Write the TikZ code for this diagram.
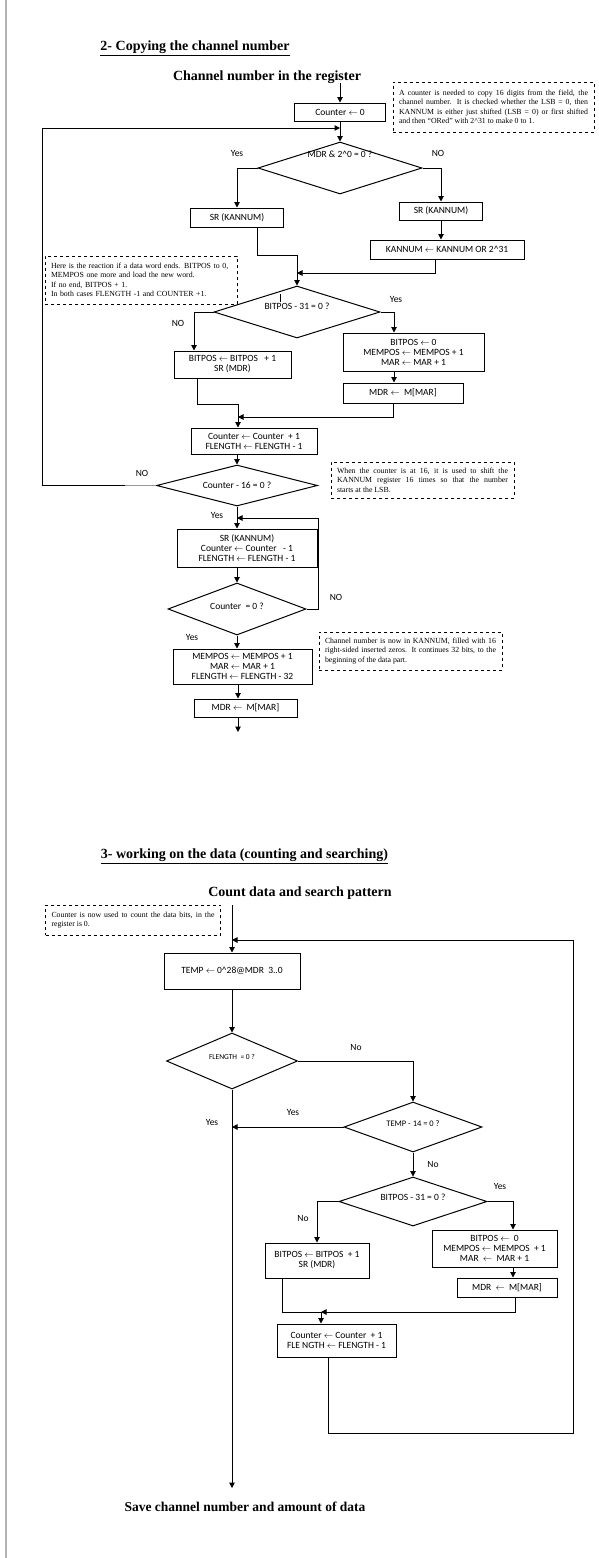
\documentclass[tikz,border=0pt]{standalone}
\usepackage{fontspec}
\setmainfont{Liberation Serif}
\newfontfamily\calib{Carlito}
\usetikzlibrary{shapes.geometric,arrows.meta}
\tikzset{
 ln/.style={line width=1pt},
 arr/.style={ln,-{Triangle[length=5.5pt,width=5.5pt]}},
 box/.style={draw,ln,inner sep=1pt,font=\calib\fontsize{9.5}{10}\selectfont,align=center},
 dec/.style={diamond,draw,ln,aspect=3,inner sep=0pt,font=\calib\fontsize{9.5}{10}\selectfont},
 note/.style={draw,dashed,ln,inner xsep=6pt,inner ysep=3pt,font=\fontsize{7.8}{9.5}\selectfont,align=justify},
 lbl/.style={font=\calib\fontsize{9.5}{10}\selectfont,inner sep=0pt},
 ttl/.style={font=\bfseries\fontsize{14}{16}\selectfont,inner sep=0pt},
}
\newcommand{\la}{$\leftarrow$}
\newcommand{\rs}[2]{\raisebox{#1pt}[0pt][0pt]{#2}}
\begin{document}
\begin{tikzpicture}[x=1pt,y=-1pt]
\fill[white] (0,0) rectangle (599,1558);
\useasboundingbox (0,0) rectangle (599,1558);
\draw[black!30,line width=1.2pt] (6,0) -- (6,1558);

% ---------- Section 2 ----------
\node[ttl] (t1) at (195,48) {\underline{2- Copying the channel number}};
\node[ttl] (t2) at (267,77) {Channel number in the register};

\node[box,minimum width=91pt,minimum height=18pt] (c0) at (340,112) {Counter \la\ 0};
\node[note,text width=189pt,minimum height=50pt] (n1) at (493.5,107) {A counter is needed to copy 16 digits from the field, the\linebreak channel number. It is checked whether the LSB = 0, then\linebreak KANNUM is either just shifted (LSB = 0) or first shifted\linebreak and then ``ORed'' with 2\textasciicircum 31 to make 0 to 1.};

\node[dec,minimum width=164pt,minimum height=52pt] (d1) at (340,168) {\rs{11}{MDR \& 2\textasciicircum 0 = 0 ?}};
\node[lbl] (y1) at (237,153) {Yes};
\node[lbl] (no1) at (438,153) {NO};

\node[box,minimum width=93pt,minimum height=19pt] (s1) at (237,217.5) {SR (KANNUM)};
\node[box,minimum width=83pt,minimum height=18pt] (s2) at (441,211) {SR (KANNUM)};
\node[box,minimum width=154pt,minimum height=19pt] (k1) at (447,249.5) {KANNUM \la\ KANNUM OR 2\textasciicircum 31};

\node[note,align=left,text width=180pt,minimum height=48pt] (n2) at (141,280) {Here is the reaction if a data word ends. BITPOS to 0,\\ MEMPOS one more and load the new word.\\ If no end, BITPOS + 1.\\ In both cases FLENGTH -1 and COUNTER +1.};

\node[dec,minimum width=166pt,minimum height=52pt] (d2) at (297,312) {\rs{3}{BITPOS - 31 = 0 ?}};
\node[lbl] (y2) at (396,299) {Yes};
\node[lbl] (no2) at (178,323) {NO};

\node[box,minimum width=117pt,minimum height=27pt] (b1) at (232.5,364.5) {BITPOS \la\ BITPOS \ \ + 1\\ SR (MDR)};
\node[box,minimum width=141pt,minimum height=38pt] (r1) at (413.5,352) {BITPOS \la\ 0\\ MEMPOS \la\ MEMPOS + 1\\ MAR \la\ MAR + 1};
\node[box,minimum width=120pt,minimum height=20pt] (m1) at (403,393) {MDR \la\ \ M[MAR]};

\node[box,minimum width=126pt,minimum height=26pt] (c1) at (254,441) {Counter \la\ Counter \ + 1\\ FLENGTH \la\ FLENGTH - 1};
\node[dec,minimum width=161pt,minimum height=41pt] (d3) at (237,485.5) {\rs{-3}{Counter - 16 = 0 ?}};
\node[lbl] (no3) at (142,473) {NO};
\node[note,text width=171pt,minimum height=36pt] (n3) at (422.5,480) {When the counter is at 16, it is used to shift the\linebreak KANNUM register 16 times so that the number\linebreak starts at the LSB.};
\node[lbl] (y3) at (217,515) {Yes};

\node[box,minimum width=140pt,minimum height=38pt] (s3) at (247,548) {SR (KANNUM)\\ Counter \la\ Counter \ \ - 1\\ FLENGTH \la\ FLENGTH - 1};
\node[dec,minimum width=138pt,minimum height=52pt] (d4) at (237,609) {\rs{0}{Counter \ = 0 ?}};
\node[lbl] (no4) at (336,597) {NO};
\node[lbl] (y4) at (192,637) {Yes};

\node[box,minimum width=139pt,minimum height=35pt] (e1) at (242.5,666.5) {MEMPOS \la\ MEMPOS + 1\\ MAR \la\ MAR + 1\\ FLENGTH \la\ FLENGTH - 32};
\node[note,text width=171pt,minimum height=38pt] (n4) at (410.5,651) {Channel number is now in KANNUM, filled with 16\linebreak right-sided inserted zeros. It continues 32 bits, to the\linebreak beginning of the data part.};
\node[box,minimum width=103pt,minimum height=18pt] (m2) at (245.5,708) {MDR \la\ \ M[MAR]};

% connectors section 2
\coordinate (a0) at (340,83);
\coordinate (lp) at (340,128);
\draw[arr] (a0) -- (c0.north);
\draw[arr] (c0.south) -- (d1.north);
\draw[arr] (d1.west) -| (s1.north);
\draw[arr] (d1.east) -| (s2.north);
\draw[arr] (s2.south) -- (k1.north -| s2.south);
\coordinate (j0) at (297,255);
\coordinate (j1) at (297,273);
\draw[ln] ([xshift=20pt]s1.south) |- (j0);
\draw[arr] (j0) -- (d2.north);
\draw[arr] ([xshift=-12pt]k1.south) |- (j1);
\draw[ln] (280,294) -- (280,302);
\draw[arr] (d2.west) -| ([xshift=-38.5pt]b1.north);
\draw[arr] (d2.east) -| ([xshift=-19.5pt]r1.north);
\coordinate (r1b) at ([xshift=-19.5pt]r1.south);
\draw[arr] (r1b) -- (r1b |- m1.north);
\coordinate (j2) at (238,404);
\coordinate (j3) at (238,417);
\draw[ln] ([xshift=-35.5pt]b1.south) |- (j2);
\draw[arr] (j2) -- (j2 |- c1.north);
\draw[arr] ([xshift=-10pt]m1.south) |- (j3);
\draw[arr] (c1.south -| d3.north) -- (d3.north);
\coordinate (g1) at (125,485.5);
\coordinate (g2) at (42,485.5);
\coordinate (g3) at (42,128);
\draw[ln,black!40] (d3.west) -- (g1);
\draw[arr] (g1) -- (g2) -- (g3) -- (lp);
\draw[arr] (d3.south) -- (d3.south |- s3.north);
\draw[arr] (s3.south -| d4.north) -- (d4.north);
\coordinate (j4) at (318,518);
\coordinate (j5) at (237,518);
\draw[arr] (d4.east) -| (j4) -- (j5);
\draw[arr] (d4.south) -- (d4.south |- e1.north);
\coordinate (x1) at (238,700);
\draw[arr] (e1.south -| x1) -- (m2.north -| x1);
\coordinate (end1) at (238,732);
\draw[arr] (m2.south -| end1) -- (end1);

% ---------- Section 3 ----------
\node[ttl] (t3) at (244.5,856) {\underline{3- working on the data (counting and searching)}};
\node[ttl] (t4) at (300,893) {Count data and search pattern};
\node[note,text width=163pt,minimum height=30pt] (n5) at (133,920) {Counter is now used to count the data bits, in the\linebreak register is 0.};

\node[box,minimum width=136pt,minimum height=36pt] (tp) at (232,971) {TEMP \la\ 0\textasciicircum 28@MDR \ 3..0};
\node[dec,minimum width=131pt,minimum height=56pt,font=\calib\fontsize{7.5}{9}\selectfont] (d5) at (232,1061) {\rs{2}{FLENGTH \ = 0 ?}};
\node[lbl] (no5) at (356,1047) {No};
\node[dec,minimum width=138pt,minimum height=50pt,font=\calib\fontsize{8.5}{10}\selectfont] (d6) at (413,1127) {\rs{1}{TEMP - 14 = 0 ?}};
\node[lbl] (y6a) at (293,1112) {Yes};
\node[lbl] (y6b) at (212,1122) {Yes};
\node[lbl] (no6) at (433,1164) {No};
\node[dec,minimum width=148pt,minimum height=49pt] (d7) at (413,1201.5) {\rs{1}{BITPOS - 31 = 0 ?}};
\node[lbl] (y7) at (500,1186) {Yes};
\node[lbl] (no7) at (303,1218) {No};

\node[box,minimum width=104pt,minimum height=35pt] (b2) at (317,1260.5) {BITPOS \la\ BITPOS \ + 1\\ SR (MDR)};
\node[box,minimum width=125pt,minimum height=37pt] (r2) at (494.5,1248.5) {BITPOS \la\ \ 0\\ MEMPOS \la\ MEMPOS \ + 1\\ MAR \ \la\ \ MAR + 1};
\node[box,minimum width=100pt,minimum height=19pt] (m3) at (507,1287.5) {MDR \ \la\ \ M[MAR]};
\node[box,minimum width=119pt,minimum height=33pt] (c2) at (336.5,1340.5) {Counter \la\ Counter \ + 1\\ FLE NGTH \la\ FLENGTH - 1};
\node[ttl,font=\bfseries\fontsize{13.5}{16}\selectfont] (t5) at (245,1507) {Save channel number and amount of data};

% connectors section 3
\coordinate (s3a) at (232,905);
\coordinate (lp2) at (232,940);
\draw[arr] (s3a) -- (tp.north);
\draw[arr] (tp.south) -- (d5.north);
\draw[arr] (d5.east) -| (d6.north);
\coordinate (y5) at (232,1127);
\draw[arr] (d6.west) -- (y5);
\coordinate (end2) at (232,1488);
\draw[arr] (d5.south) -- (end2);
\draw[arr] (d6.south) -- (d7.north);
\draw[arr] (d7.west) -| (b2.north);
\draw[arr] (d7.east) -| ([xshift=18.5pt]r2.north);
\coordinate (r2b) at ([xshift=18.5pt]r2.south);
\draw[arr] (r2b) -- (r2b |- m3.north);
\coordinate (j6) at (321,1312);
\draw[arr] ([xshift=8pt]m3.south) |- (j6);
\draw[ln] ([xshift=-35pt]b2.south) |- (j6);
\draw[arr] (j6) -- (j6 |- c2.north);
\coordinate (j7) at (573,1433);
\draw[arr] ([xshift=-8.5pt]c2.south) |- (j7) -- (j7 |- lp2) -- (lp2);
\end{tikzpicture}
\end{document}
